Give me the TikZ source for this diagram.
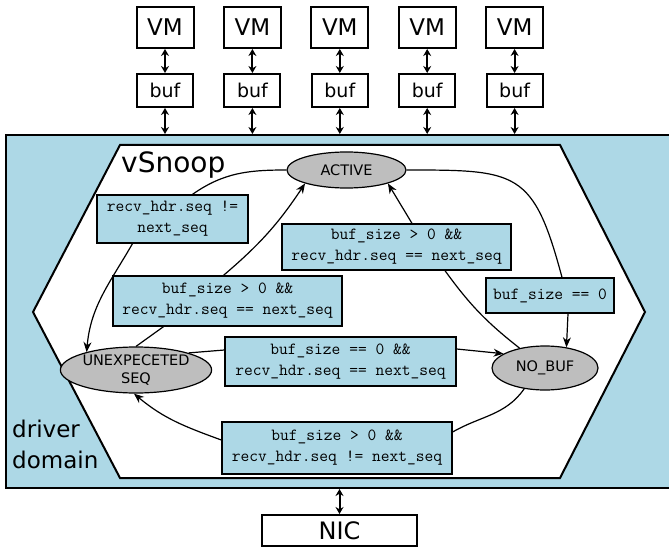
\documentclass[tikz,border=0pt]{standalone}
\usepackage{fontspec}
\setmainfont{DejaVu Sans}
\usetikzlibrary{arrows.meta,shapes.geometric}
\definecolor{drvblue}{HTML}{ADD8E6}
\definecolor{stategray}{HTML}{BEBEBE}
\begin{document}
\begin{tikzpicture}[x=1pt,y=1pt,
  vmbox/.style={draw,line width=2pt,fill=white,minimum width=57pt,minimum height=41pt,inner sep=0pt,font=\fontsize{23}{23}\selectfont},
  bufbox/.style={draw,line width=2pt,fill=white,minimum width=56pt,minimum height=33pt,inner sep=0pt,font=\fontsize{19}{19}\selectfont},
  nicbox/.style={draw,line width=2pt,fill=white,minimum width=155pt,minimum height=31pt,inner sep=0pt,font=\fontsize{24}{24}\selectfont},
  state/.style={ellipse,draw,line width=1.2pt,fill=stategray,inner sep=0pt,align=center,font=\fontsize{14.5}{18}\selectfont},
  cond/.style={draw,line width=1.3pt,fill=drvblue,inner sep=2pt,align=center,font=\ttfamily\fontsize{17}{21}\selectfont},
  dbl/.style={line width=2pt,{Stealth[length=7pt,width=8pt]}-{Stealth[length=7pt,width=8pt]}},
  edge/.style={line width=1.2pt},
  aedge/.style={line width=1.2pt,-{Stealth[length=10pt,width=8pt]}}
]
\useasboundingbox (0,0) rectangle (669,-548);
% driver domain
\node[draw,line width=2pt,fill=drvblue,minimum width=669pt,minimum height=353pt,inner sep=0pt] (drv) at (340.5,-311.5) {};
% vSnoop hexagon
\draw[line width=2pt,fill=white] (120,-145) -- (560,-145) -- (645,-312) -- (560,-478) -- (120,-478) -- (33,-312) -- cycle;
\node[anchor=base west,inner sep=0pt,font=\fontsize{28}{28}\selectfont] (vsnoop) at (121,-173) {vSnoop};
\node[anchor=north west,inner sep=0pt,align=left,font=\fontsize{23}{31}\selectfont] (dd) at (12,-420) {driver\\domain};
% VMs and buffers
\foreach \i/\x in {1/165,2/252.4,3/339.8,4/427.2,5/514.6}{
  \node[vmbox] (vm\i) at (\x,-27.5) {VM};
  \node[bufbox] (buf\i) at (\x,-90.5) {buf};
  \draw[dbl] (vm\i.south) -- (buf\i.north);
  \draw[dbl] (buf\i.south) -- (buf\i.south |- drv.north);
}
% NIC
\node[nicbox] (nic) at (339.5,-530.5) {NIC};
\draw[dbl] (nic.north |- drv.south) -- (nic.north);
% states
\node[state,minimum width=119pt,minimum height=36pt] (act) at (346.5,-170) {ACTIVE};
\node[state,minimum width=146pt,minimum height=46pt] (ue) at (136,-370) {UNEXPECETED\\SEQ};
\node[state,minimum width=106pt,minimum height=44pt] (nb) at (545,-368) {NO\_BUF};
% conditions
\node[cond,minimum width=151pt,minimum height=48pt] (l1) at (172.5,-219) {recv\_hdr.seq !=\\next\_seq};
\node[cond,minimum width=229pt,minimum height=46pt] (l2) at (396.5,-247) {buf\_size > 0 \&\&\\recv\_hdr.seq == next\_seq};
\node[cond,minimum width=229pt,minimum height=50pt] (l3) at (227.5,-301) {buf\_size > 0 \&\&\\recv\_hdr.seq == next\_seq};
\node[cond,minimum width=128pt,minimum height=35pt] (l4) at (550,-295.5) {buf\_size == 0};
\node[cond,minimum width=231pt,minimum height=49pt] (l5) at (340.5,-361.5) {buf\_size == 0 \&\&\\recv\_hdr.seq == next\_seq};
\node[cond,minimum width=230pt,minimum height=52pt] (l6) at (337,-448) {buf\_size > 0 \&\&\\recv\_hdr.seq != next\_seq};
% transitions
\draw[edge] (act.west) to[out=180,in=35] ([xshift=20pt]l1.north);
\draw[aedge] ([xshift=-40pt]l1.south) to[out=240,in=85] (ue.160);
\draw[edge] (ue.north) -- ([xshift=-64pt]l3.south);
\draw[aedge] ([xshift=-4pt]l3.north) to[bend right=8] (act.198);
\draw[edge] (nb.142) to[bend left=8] ([xshift=48.5pt]l2.south);
\draw[aedge] ([xshift=15.5pt]l2.north) -- (act.-18);
\draw[edge] (act.east) to[out=0,in=105,looseness=1.5] ([xshift=12pt]l4.north);
\draw[aedge] ([xshift=18pt]l4.south) -- (nb.44);
\draw[edge] (ue.18) -- ([yshift=11.5pt]l5.west);
\draw[aedge] ([yshift=12.5pt]l5.east) -- (nb.161);
\draw[edge] (nb.225) to[out=235,in=30] ([yshift=16pt]l6.east);
\draw[aedge] ([yshift=8pt]l6.west) to[out=160,in=-40] (ue.265);
\end{tikzpicture}
\end{document}
